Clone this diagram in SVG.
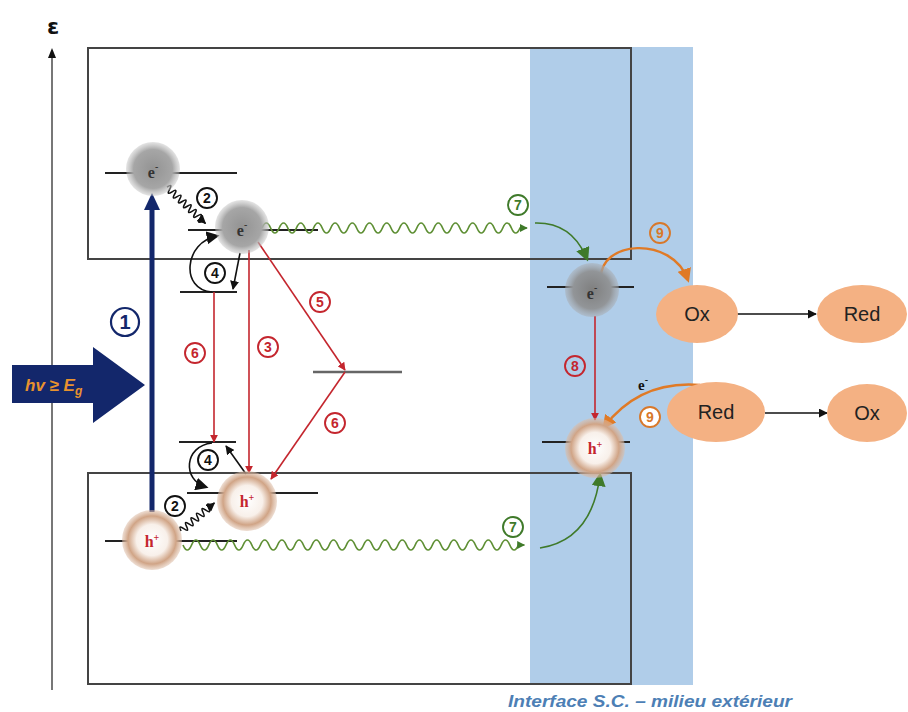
<svg xmlns="http://www.w3.org/2000/svg" width="908" height="712" viewBox="0 0 908 712">
  <style>
    .lvl { stroke: #222; stroke-width: 2; fill: none; }
    .box { stroke: #444; stroke-width: 2; fill: none; }
    .red { stroke: #c4262e; stroke-width: 1.6; fill: none; }
    .blk { stroke: #111; stroke-width: 1.6; fill: none; }
    .grn { stroke: #3f7a2a; stroke-width: 1.6; fill: none; }
    .wav { stroke: #5e8f34; stroke-width: 1.7; fill: none; }
    .num { font-family: "Liberation Sans", Arial, sans-serif; font-size: 14px; font-weight: bold; text-anchor: middle; }
    .ring { fill: #fff; stroke-width: 1.9; }
    .qe { font-family: "Liberation Serif", serif; font-size: 16px; font-weight: bold; fill: #333; text-anchor: middle; }
    .qh { font-family: "Liberation Serif", serif; font-size: 16px; font-weight: bold; fill: #c4262e; text-anchor: middle; }
    .sp { fill: #f4b183; }
    .spt { font-family: "Liberation Sans", Arial, sans-serif; font-size: 20px; fill: #222; text-anchor: middle; }
  </style>
  <defs>
    <radialGradient id="gE" cx="50%" cy="50%" r="50%">
      <stop offset="0" stop-color="#939393"/>
      <stop offset="0.72" stop-color="#a6a6a6"/>
      <stop offset="1" stop-color="#bcbcbc" stop-opacity="0.4"/>
    </radialGradient>
    <radialGradient id="gE2" cx="50%" cy="50%" r="50%">
      <stop offset="0" stop-color="#7f7f7f"/>
      <stop offset="0.7" stop-color="#929598"/>
      <stop offset="1" stop-color="#a9adb2" stop-opacity="0.5"/>
    </radialGradient>
    <radialGradient id="gH" cx="50%" cy="50%" r="50%">
      <stop offset="0" stop-color="#ffffff"/>
      <stop offset="0.52" stop-color="#f8f0ea"/>
      <stop offset="0.8" stop-color="#d0a486"/>
      <stop offset="1" stop-color="#dcbca6" stop-opacity="0.5"/>
    </radialGradient>
    <marker id="mR" viewBox="0 0 10 10" refX="9" refY="5" markerWidth="8" markerHeight="8" markerUnits="userSpaceOnUse" orient="auto">
      <path d="M0,0 L10,5 L0,10 z" fill="#c4262e"/>
    </marker>
    <marker id="mK" viewBox="0 0 10 10" refX="9" refY="5" markerWidth="9" markerHeight="9" markerUnits="userSpaceOnUse" orient="auto">
      <path d="M0,0 L10,5 L0,10 z" fill="#111"/>
    </marker>
    <marker id="mKb" viewBox="0 0 10 10" refX="8" refY="5" markerWidth="13" markerHeight="13" markerUnits="userSpaceOnUse" orient="auto">
      <path d="M0,0 L10,5 L0,10 z" fill="#111"/>
    </marker>
    <marker id="mG" viewBox="0 0 10 10" refX="9" refY="5" markerWidth="8" markerHeight="8" markerUnits="userSpaceOnUse" orient="auto">
      <path d="M0,0 L10,5 L0,10 z" fill="#3f7a2a"/>
    </marker>
    <marker id="mGb" viewBox="0 0 10 10" refX="8" refY="5" markerWidth="14" markerHeight="14" markerUnits="userSpaceOnUse" orient="auto">
      <path d="M0,0 L10,5 L0,10 z" fill="#3f7a2a"/>
    </marker>
    <marker id="mO" viewBox="0 0 10 10" refX="8" refY="5" markerWidth="14" markerHeight="14" markerUnits="userSpaceOnUse" orient="auto">
      <path d="M0,0 L10,5 L0,10 z" fill="#e07a26"/>
    </marker>
  </defs>

  <rect width="908" height="712" fill="#fff"/>

  <!-- interface band -->
  <rect id="interface" x="530" y="47" width="163" height="638" fill="#b0cde9"/>

  <!-- energy axis -->
  <g id="axis">
    <line x1="52" y1="690" x2="52" y2="56" stroke="#777" stroke-width="2"/>
    <path d="M48,58 L52,48 L56,58 z" fill="#111"/>
    <text x="53" y="34" font-family="DejaVu Sans, sans-serif" font-size="22" font-weight="bold" text-anchor="middle" fill="#111">ε</text>
  </g>

  <!-- conduction and valence bands -->
  <rect id="conduction-band" x="88" y="48" width="543" height="211" class="box"/>
  <rect id="valence-band" x="88" y="473" width="543" height="211" class="box" stroke="#222" stroke-width="1.6"/>

  <!-- energy levels -->
  <g id="levels">
    <line x1="105" y1="173" x2="237" y2="173" class="lvl"/>
    <line x1="188" y1="230" x2="318" y2="230" class="lvl"/>
    <line x1="180" y1="292" x2="237" y2="292" class="lvl"/>
    <line x1="313" y1="372" x2="402" y2="372" stroke="#666" stroke-width="2.5"/>
    <line x1="179" y1="442" x2="236" y2="442" class="lvl"/>
    <line x1="187" y1="493" x2="318" y2="493" class="lvl"/>
    <line x1="105" y1="541" x2="237" y2="541" class="lvl"/>
    <line x1="547" y1="287" x2="634" y2="287" class="lvl" stroke="#333"/>
    <line x1="542" y1="442" x2="630" y2="442" class="lvl" stroke="#333"/>
  </g>

  <g id="connectors">
    <!-- recombination paths -->
    <line x1="214" y1="292" x2="214" y2="442" class="red" marker-end="url(#mR)"/>
    <line x1="249" y1="250" x2="249" y2="473" class="red" marker-end="url(#mR)"/>
    <line x1="258" y1="242" x2="345" y2="370" class="red" marker-end="url(#mR)"/>
    <line x1="345" y1="372" x2="271" y2="479" class="red" marker-end="url(#mR)"/>
    <line x1="595" y1="316" x2="595" y2="420" class="red" marker-end="url(#mR)"/>

    <!-- trapping / detrapping -->
    <path d="M212,292 C180,290 184,242 217,236" class="blk" stroke-width="2.2" marker-end="url(#mKb)"/>
    <line x1="240" y1="253" x2="233" y2="289" class="blk" marker-end="url(#mK)"/>
    <path d="M212,443 C184,446 182,480 206,487" class="blk" stroke-width="2.2" marker-end="url(#mKb)"/>
    <line x1="246" y1="474" x2="226" y2="446" class="blk" marker-end="url(#mK)"/>

    <!-- thermalisation -->
    <path transform="translate(167,187) rotate(43.5)" d="M0,0 q1.75,-7 3.5,0 t3.5,0 t3.5,0 t3.5,0 t3.5,0 t3.5,0 t3.5,0 t3.5,0 t3.5,0 t3.5,0 t3.5,0 t3.5,0 t3.5,0 t3.5,0 l4,0" class="blk" stroke-width="1.4" marker-end="url(#mK)"/>
    <path transform="translate(181,531) rotate(-40)" d="M0,0 q1.8,-7 3.6,0 t3.6,0 t3.6,0 t3.6,0 t3.6,0 t3.6,0 t3.6,0 t3.6,0 t3.6,0 t3.6,0 t3.6,0 l4,0" class="blk" stroke-width="1.4" marker-end="url(#mK)"/>

    <!-- migration to the surface -->
    <path d="M262,228 q4.3,-10 8.6,0 t8.6,0 t8.6,0 t8.6,0 t8.6,0 t8.6,0 t8.6,0 t8.6,0 t8.6,0 t8.6,0 t8.6,0 t8.6,0 t8.6,0 t8.6,0 t8.6,0 t8.6,0 t8.6,0 t8.6,0 t8.6,0 t8.6,0 t8.6,0 t8.6,0 t8.6,0 t8.6,0 t8.6,0 t8.6,0 t8.6,0 t8.6,0 t8.6,0 t8.6,0 l7,0" class="wav" marker-end="url(#mG)"/>
    <path d="M183,545 q4.3,10 8.6,0 t8.6,0 t8.6,0 t8.6,0 t8.6,0 t8.6,0 t8.6,0 t8.6,0 t8.6,0 t8.6,0 t8.6,0 t8.6,0 t8.6,0 t8.6,0 t8.6,0 t8.6,0 t8.6,0 t8.6,0 t8.6,0 t8.6,0 t8.6,0 t8.6,0 t8.6,0 t8.6,0 t8.6,0 t8.6,0 t8.6,0 t8.6,0 t8.6,0 t8.6,0 t8.6,0 t8.6,0 t8.6,0 t8.6,0 t8.6,0 t8.6,0 t8.6,0 t8.6,0 t8.6,0 l6,0" class="wav" marker-end="url(#mG)"/>
    <path d="M535,223 Q572,222 587,259" class="grn" stroke-width="2.4" marker-end="url(#mGb)"/>
    <path d="M540,548 Q592,540 600,475" class="grn" stroke-width="2.4" marker-end="url(#mGb)"/>

    <!-- interfacial charge transfer -->
    <path d="M601,280 C598,240 672,235 688,280" stroke="#e07a26" stroke-width="2.4" fill="none" marker-end="url(#mO)"/>
    <path d="M700,385 Q640,380 604,427" stroke="#e07a26" stroke-width="2.4" fill="none" marker-end="url(#mO)"/>

    <!-- redox reactions -->
    <line x1="737" y1="314" x2="816" y2="314" class="blk" marker-end="url(#mK)"/>
    <line x1="765" y1="413" x2="827" y2="413" class="blk" marker-end="url(#mK)"/>
  </g>

  <!-- excitation -->
  <g id="excitation">
    <line x1="152" y1="512" x2="152" y2="205" stroke="#13276b" stroke-width="5"/>
    <path d="M144,210 L152,193 L160,210 z" fill="#13276b"/>
    <circle cx="125" cy="322" r="14" fill="#fff" stroke="#13276b" stroke-width="2.2"/>
    <text x="125" y="329" font-family="Liberation Sans, Arial, sans-serif" font-size="20" font-weight="bold" text-anchor="middle" fill="#13276b">1</text>
  </g>

  <g id="photon">
    <path d="M12,365 L93,365 L93,347 L145,385 L93,423 L93,403 L12,403 z" fill="#13276b"/>
    <text x="25" y="391" font-family="Liberation Sans, Arial, sans-serif" font-size="17" font-weight="bold" font-style="italic" fill="#e8922e">hv ≥ E<tspan font-size="12" dy="4">g</tspan></text>
  </g>

  <!-- charge carriers -->
  <g id="e-hot">
    <circle cx="153" cy="169" r="27" fill="url(#gE)"/>
    <text x="153" y="178" class="qe">e<tspan font-size="10" dy="-8">-</tspan></text>
  </g>
  <g id="e-cb">
    <circle cx="242" cy="227" r="27" fill="url(#gE)"/>
    <text x="242" y="236" class="qe">e<tspan font-size="10" dy="-8">-</tspan></text>
  </g>
  <g id="e-surface">
    <circle cx="592" cy="290" r="27" fill="url(#gE2)"/>
    <text x="592" y="299" class="qe">e<tspan font-size="10" dy="-8">-</tspan></text>
  </g>
  <g id="h-vb">
    <circle cx="247" cy="501" r="30" fill="url(#gH)"/>
    <text x="247" y="507" class="qh">h<tspan font-size="10" dy="-6">+</tspan></text>
  </g>
  <g id="h-hot">
    <circle cx="152" cy="540" r="30" fill="url(#gH)"/>
    <text x="152" y="547" class="qh">h<tspan font-size="10" dy="-6">+</tspan></text>
  </g>
  <g id="h-surface">
    <circle cx="595" cy="448" r="30" fill="url(#gH)"/>
    <text x="595" y="454" class="qh">h<tspan font-size="10" dy="-6">+</tspan></text>
  </g>

  <!-- step labels -->
  <g id="labels">
    <circle cx="207" cy="198" r="10" class="ring" stroke="#111"/><text x="207" y="203" class="num" fill="#111">2</text>
    <circle cx="175" cy="506" r="10" class="ring" stroke="#111"/><text x="175" y="511" class="num" fill="#111">2</text>
    <circle cx="215" cy="273" r="10" class="ring" stroke="#111"/><text x="215" y="278" class="num" fill="#111">4</text>
    <circle cx="208" cy="460" r="10" class="ring" stroke="#111"/><text x="208" y="465" class="num" fill="#111">4</text>
    <circle cx="320" cy="302" r="10" class="ring" stroke="#c4262e"/><text x="320" y="307" class="num" fill="#c4262e">5</text>
    <circle cx="268" cy="347" r="10" class="ring" stroke="#c4262e"/><text x="268" y="352" class="num" fill="#c4262e">3</text>
    <circle cx="195" cy="353" r="10" class="ring" stroke="#c4262e"/><text x="195" y="358" class="num" fill="#c4262e">6</text>
    <circle cx="335" cy="423" r="10" class="ring" stroke="#c4262e"/><text x="335" y="428" class="num" fill="#c4262e">6</text>
    <circle cx="518" cy="205" r="10" class="ring" stroke="#3f7a2a"/><text x="518" y="210" class="num" fill="#3f7a2a">7</text>
    <circle cx="513" cy="527" r="10" class="ring" stroke="#3f7a2a"/><text x="513" y="532" class="num" fill="#3f7a2a">7</text>
    <circle cx="575" cy="366" r="10" fill="#b0cde9" stroke="#c4262e" stroke-width="1.9"/><text x="575" y="371" class="num" fill="#c4262e">8</text>
    <circle cx="660" cy="233" r="10" fill="#b0cde9" stroke="#d8782a" stroke-width="1.9"/><text x="660" y="238" class="num" fill="#d8782a">9</text>
    <circle cx="650" cy="417" r="10" fill="#fff" stroke="#d8782a" stroke-width="1.9"/><text x="650" y="422" class="num" fill="#d8782a">9</text>
    <text x="643" y="390" font-family="Liberation Serif, serif" font-size="15" font-weight="bold" fill="#111" text-anchor="middle">e<tspan font-size="10" dy="-7">-</tspan></text>
  </g>

  <!-- redox species -->
  <g id="ox-1"><ellipse cx="697" cy="314" rx="41" ry="29" class="sp"/><text x="697" y="321" class="spt">Ox</text></g>
  <g id="red-1"><ellipse cx="862" cy="314" rx="45" ry="29" class="sp"/><text x="862" y="321" class="spt">Red</text></g>
  <g id="red-2"><ellipse cx="716" cy="412" rx="49" ry="30" class="sp"/><text x="716" y="419" class="spt">Red</text></g>
  <g id="ox-2"><ellipse cx="867" cy="413" rx="40" ry="29" class="sp"/><text x="867" y="420" class="spt">Ox</text></g>

  <text id="caption" x="508" y="707" font-family="Liberation Sans, Arial, sans-serif" font-size="16" font-weight="bold" font-style="italic" fill="#4d7fb5" textLength="284" lengthAdjust="spacingAndGlyphs">Interface S.C. – milieu extérieur</text>
</svg>
